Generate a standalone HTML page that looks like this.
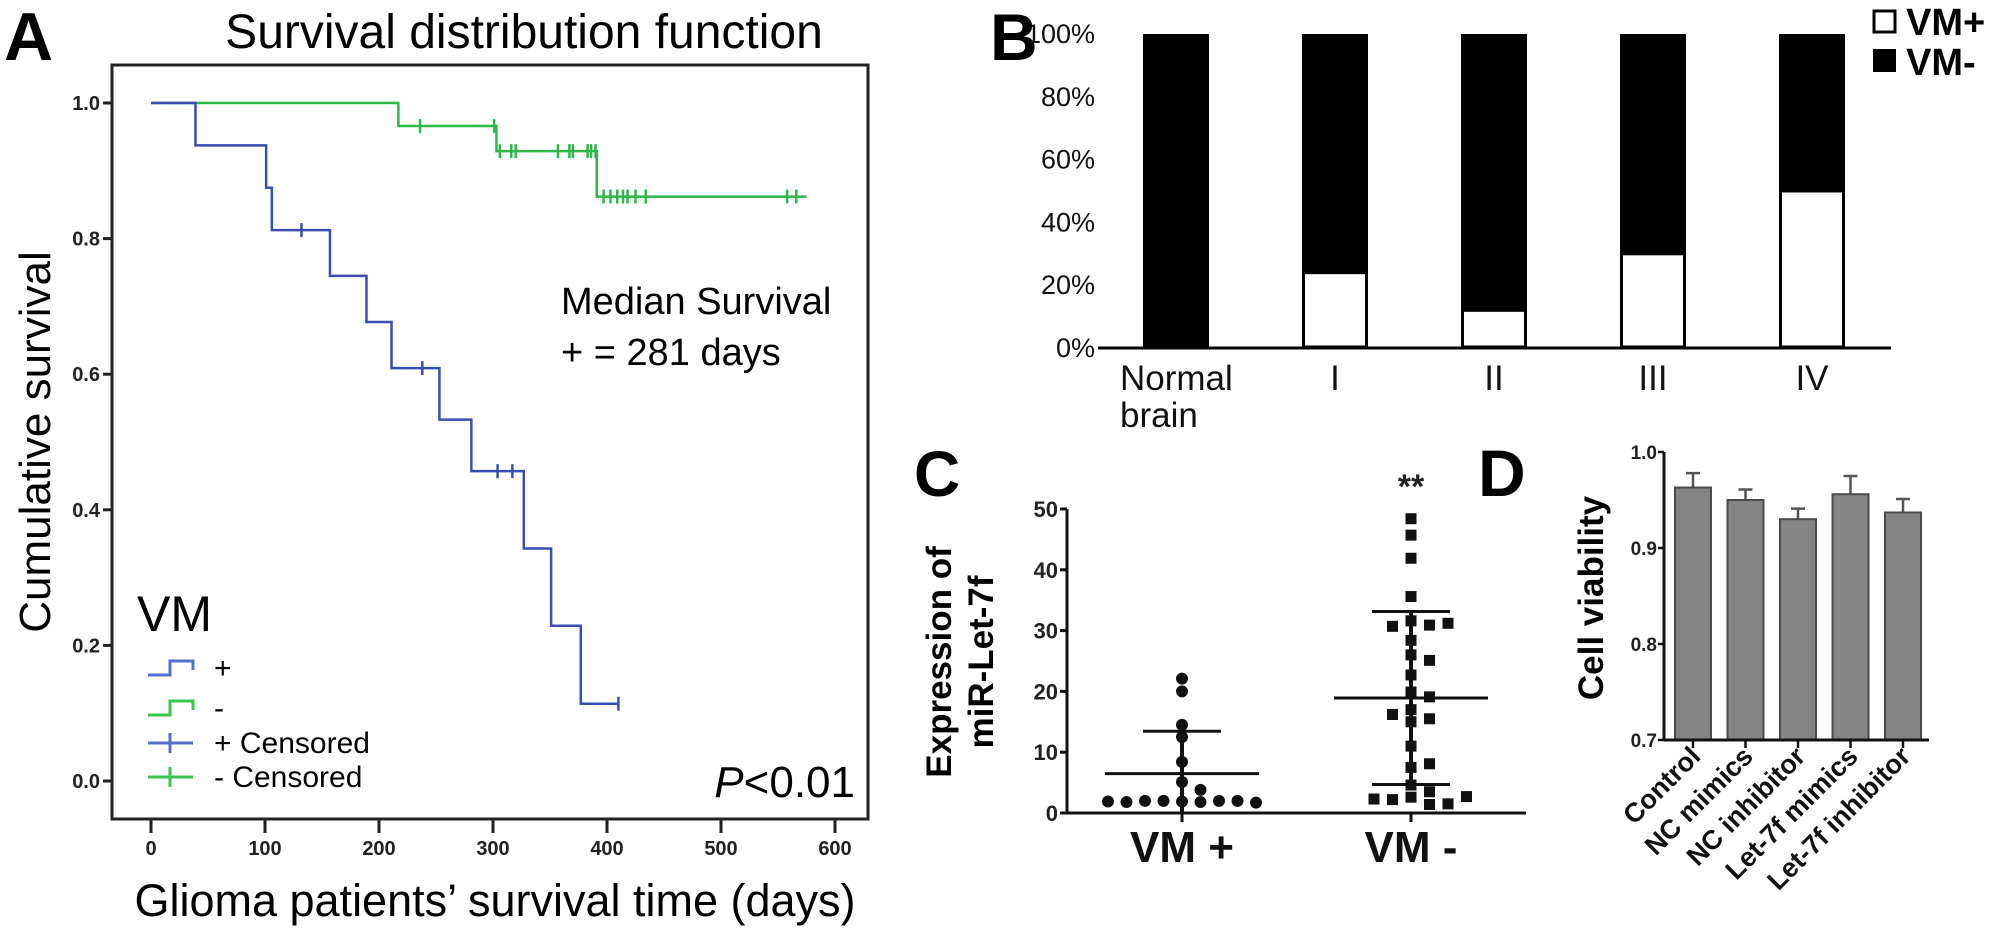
<!DOCTYPE html>
<html><head><meta charset="utf-8">
<style>
html,body{margin:0;padding:0;background:#fff;}
svg{display:block;}
text{font-family:"Liberation Sans",Arial,sans-serif;}
</style></head>
<body>
<svg id="fig" width="2008" height="933" viewBox="0 0 2008 933" xmlns="http://www.w3.org/2000/svg">
  <g>
    <text x="4" y="60" font-size="68" font-weight="bold">A</text>
    <text x="524" y="48" font-size="48" text-anchor="middle">Survival distribution function</text>
    <rect x="112" y="65" width="756" height="754" fill="none" stroke="#222" stroke-width="3"/>
    <text transform="translate(50,442) rotate(-90)" font-size="44" text-anchor="middle">Cumulative survival</text>
    <text x="495" y="916" font-size="45" text-anchor="middle">Glioma patients’ survival time (days)</text>
    <text x="561" y="314" font-size="38">Median Survival</text>
    <text x="561" y="365" font-size="38">+ = 281 days</text>
    <text x="855" y="797" font-size="44" text-anchor="end"><tspan font-style="italic">P</tspan>&lt;0.01</text>
    <g>
      <text x="137" y="631" font-size="50">VM</text>
      <path d="M148 675 H170 V661 H193 V670" fill="none" stroke="#5570c8" stroke-width="3"/>
      <text x="214" y="678" font-size="30">+</text>
      <path d="M148 715 H170 V701 H193 V710" fill="none" stroke="#3cc450" stroke-width="3"/>
      <text x="214" y="718" font-size="30">-</text>
      <path d="M148 743 H193 M170 733 V753" fill="none" stroke="#5570c8" stroke-width="3"/>
      <text x="214" y="753" font-size="30">+ Censored</text>
      <path d="M148 777 H193 M170 767 V787" fill="none" stroke="#3cc450" stroke-width="3"/>
      <text x="214" y="787" font-size="30">- Censored</text>
    </g>
  </g>
  <g id="a-axes"></g>
  <g id="a-curves"></g>

  <g>
    <text x="990" y="60" font-size="66" font-weight="bold">B</text>
    <g>
      <rect x="1874" y="11" width="21" height="21" fill="#fff" stroke="#000" stroke-width="3"/>
      <text x="1906" y="35" font-size="38" font-weight="bold">VM+</text>
      <rect x="1873" y="49" width="23" height="23" fill="#000"/>
      <text x="1906" y="75" font-size="38" font-weight="bold">VM-</text>
    </g>
  </g>
  <g id="b-chart"></g>

  <g>
    <text x="914" y="496" font-size="64" font-weight="bold">C</text>
    <text transform="translate(951,662) rotate(-90)" font-size="35" font-weight="bold" text-anchor="middle">Expression of</text>
    <text transform="translate(993,662) rotate(-90)" font-size="35" font-weight="bold" text-anchor="middle">miR-Let-7f</text>
  </g>
  <g id="c-chart"></g>

  <g>
    <text x="1478" y="496" font-size="66" font-weight="bold">D</text>
    <text transform="translate(1603,598) rotate(-90)" font-size="35" font-weight="bold" text-anchor="middle">Cell viability</text>
  </g>
  <g id="d-chart"></g>
</svg>
<script>
// ---------- Panel A data ----------
const aTickValuesY = [0.0, 0.2, 0.4, 0.6, 0.8, 1.0];
const aTickLabelsY = ["0.0", "0.2", "0.4", "0.6", "0.8", "1.0"];
const aTickValuesX = [0, 100, 200, 300, 400, 500, 600];
const vmPosEventDays = [0, 39, 101, 106, 157, 189, 211, 253, 281, 327, 351, 377];
const vmPosSurvival = [1, 0.9375, 0.875, 0.8125, 0.745, 0.677, 0.609, 0.533, 0.457, 0.343, 0.229, 0.114];
const vmPosEndDay = 410;
const vmPosCensorDays = [132, 238, 304, 317, 410];
const vmNegEventDays = [0, 217, 303, 391];
const vmNegSurvival = [1, 0.966, 0.929, 0.862];
const vmNegEndDay = 575;
const vmNegCensorDays = [236, 301, 306, 316, 320, 357, 367, 370, 383, 386, 390, 397, 403, 409, 414, 418, 425, 434, 558, 566];

// ---------- Panel B data ----------
const bCategories = ["Normal\nbrain", "I", "II", "III", "IV"];
const bVmPosPercent = [0, 24, 12, 30, 50];
const bTickValues = [0, 20, 40, 60, 80, 100];

// ---------- Panel C data ----------
const cGroups = ["VM +", "VM -"];
const cVmPosValues = [1.9, 1.8, 2.0, 2.0, 2.0, 2.0, 1.8, 1.7, 1.9, 5.1, 3.8, 8.4, 12.5, 14.5, 20.0, 22.1];
const cVmNegValues = [48.4, 45.7, 41.9, 35.6, 31.6, 30.9, 30.7, 31.2, 28.4, 26.0, 25.1, 22.7, 19.9, 19.1, 17.0, 15.5, 16.2, 15.0, 11.0, 7.5, 8.1, 4.6, 3.5, 2.6, 2.2, 1.4, 1.5, 2.3, 2.7];
const cTickValues = [0, 10, 20, 30, 40, 50];

// ---------- Panel D data ----------
const dCategories = ["Control", "NC mimics", "NC inhibitor", "Let-7f mimics", "Let-7f  inhibitor"];
const dMeans = [0.963, 0.950, 0.930, 0.956, 0.937];
const dErrors = [0.015, 0.011, 0.011, 0.019, 0.014];
const dTickValues = [0.7, 0.8, 0.9, 1.0];
const dTickLabels = ["0.7", "0.8", "0.9", "1.0"];

const NS = "http://www.w3.org/2000/svg";
function mk(tag, attrs, parent) {
  const e = document.createElementNS(NS, tag);
  for (const k in attrs) e.setAttribute(k, attrs[k]);
  parent.appendChild(e);
  return e;
}

(function () {
  const ax = document.getElementById("a-axes");
  const cv = document.getElementById("a-curves");
  const xS = d => 151 + d * 1.14;
  const yS = v => 781 - v * 678;
  aTickValuesY.forEach((v, i) => {
    const t = mk("line", { x1: 103, x2: 112, y1: yS(v), y2: yS(v), stroke: "#222", "stroke-width": 3 }, ax);
    
    
    const l = mk("text", { x: 100, y: yS(v) + 7, "font-size": 20, "font-weight": "bold", "text-anchor": "end", fill: "#222" }, ax);
    l.textContent = aTickLabelsY[i];
    
    
  });
  aTickValuesX.forEach(v => {
    const t = mk("line", { x1: xS(v), x2: xS(v), y1: 819, y2: 833, stroke: "#222", "stroke-width": 3 }, ax);
    
    
    const l = mk("text", { x: xS(v), y: 855, "font-size": 20, "font-weight": "bold", "text-anchor": "middle", fill: "#222" }, ax);
    l.textContent = String(v);
    
    
  });
  function stepPath(days, surv, endDay) {
    let d = "M" + xS(days[0]) + " " + yS(surv[0]);
    for (let i = 1; i < days.length; i++) d += " H" + xS(days[i]) + " V" + yS(surv[i]);
    d += " H" + xS(endDay);
    return d;
  }
  function levelAt(days, surv, t) {
    let v = surv[0];
    for (let i = 0; i < days.length; i++) if (days[i] <= t) v = surv[i];
    return v;
  }
  const series = [
    { days: vmNegEventDays, surv: vmNegSurvival, end: vmNegEndDay, cens: vmNegCensorDays, col: "#2fb84a", name: "vm-neg" },
    { days: vmPosEventDays, surv: vmPosSurvival, end: vmPosEndDay, cens: vmPosCensorDays, col: "#3a4db3", name: "vm-pos" }
  ];
  series.forEach(s => {
    const p = mk("path", { d: stepPath(s.days, s.surv, s.end), fill: "none", stroke: s.col, "stroke-width": 2.5 }, cv);
    
    
    s.cens.forEach(t => {
      const y = yS(levelAt(s.days, s.surv, t));
      const c = mk("line", { x1: xS(t), x2: xS(t), y1: y - 7, y2: y + 7, stroke: s.col, "stroke-width": 2.5 }, cv);
      
      
    });
  });
})();

(function () {
  const g = document.getElementById("b-chart");
  const yS = v => 348 - v / 100 * 314;
  const xC = i => 1176 + i * 159;
  const bw = 66;
  bTickValues.forEach(v => {
    const l = mk("text", { x: 1095, y: yS(v) + 9, "font-size": 27, "text-anchor": "end", fill: "#111" }, g);
    l.textContent = v + "%";
    
    
  });
  bCategories.forEach((c, i) => {
    const x0 = xC(i) - bw / 2;
    const neg = mk("rect", { x: x0, y: yS(100), width: bw, height: yS(0) - yS(100), fill: "#000" }, g);
    
    
    if (bVmPosPercent[i] > 0) {
      const pos = mk("rect", { x: x0 + 1.5, y: yS(bVmPosPercent[i]), width: bw - 3, height: yS(0) - yS(bVmPosPercent[i]) - 1, fill: "#fff", stroke: "#000", "stroke-width": 3 }, g);
      
      
    }
    const lines = c.split("\n");
    lines.forEach((ln, j) => {
      const t = mk("text", { x: lines.length > 1 ? 1120 : xC(i), y: 390 + j * 37, "font-size": 35, "text-anchor": lines.length > 1 ? "start" : "middle", fill: "#111" }, g);
      t.textContent = ln;
      
      
    });
  });
  const ax = mk("line", { x1: 1098, x2: 1891, y1: 348, y2: 348, stroke: "#000", "stroke-width": 3 }, g);
  
  
})();

(function () {
  const g = document.getElementById("c-chart");
  const yS = v => 813 - v * 6.08;
  const xC = i => [1182, 1411][i];
  const yaxis = mk("line", { x1: 1067, x2: 1067, y1: 509, y2: 813, stroke: "#111", "stroke-width": 3 }, g);
  
  
  const xaxis = mk("line", { x1: 1067, x2: 1526, y1: 813, y2: 813, stroke: "#111", "stroke-width": 3 }, g);
  
  
  cTickValues.forEach(v => {
    const t = mk("line", { x1: 1060, x2: 1067, y1: yS(v), y2: yS(v), stroke: "#111", "stroke-width": 3 }, g);
    
    
    const l = mk("text", { x: 1058, y: yS(v) + 8, "font-size": 22, "font-weight": "bold", "text-anchor": "end", fill: "#222" }, g);
    l.textContent = String(v);
    
    
  });
  cGroups.forEach((c, i) => {
    const t = mk("line", { x1: xC(i), x2: xC(i), y1: 813, y2: 822, stroke: "#111", "stroke-width": 3 }, g);
    
    
    const l = mk("text", { x: xC(i), y: 862, "font-size": 44, "font-weight": "bold", "text-anchor": "middle", fill: "#111" }, g);
    l.textContent = c;
    
    
  });
  function jitter(vals) {
    const placed = [];
    const slotsOrder = [0, 1, -1, 2, -2, 3, -3, 4, -4, 5, -5];
    return vals.map(v => {
      let k = 0;
      while (placed.some(p => p.s === slotsOrder[k] && Math.abs(p.v - v) < 1.9)) k++;
      placed.push({ v: v, s: slotsOrder[k] });
      return slotsOrder[k];
    });
  }
  function stats(vals) {
    const m = vals.reduce((a, b) => a + b, 0) / vals.length;
    const sd = Math.sqrt(vals.reduce((a, b) => a + (b - m) * (b - m), 0) / (vals.length - 1));
    return { m: m, sd: sd };
  }
  [cVmPosValues, cVmNegValues].forEach((vals, gi) => {
    const cx = xC(gi);
    const st = stats(vals);
    const lo = Math.max(0, st.m - st.sd), hi = st.m + st.sd;
    const vl = mk("line", { x1: cx, x2: cx, y1: yS(hi), y2: yS(lo), stroke: "#111", "stroke-width": 4 }, g);
    
    
    const ml = mk("line", { x1: cx - 77, x2: cx + 77, y1: yS(st.m), y2: yS(st.m), stroke: "#111", "stroke-width": 3 }, g);
    
    
    const hl = mk("line", { x1: cx - 39, x2: cx + 39, y1: yS(hi), y2: yS(hi), stroke: "#111", "stroke-width": 3 }, g);
    
    
    if (st.m - st.sd > 0) {
      const ll = mk("line", { x1: cx - 39, x2: cx + 39, y1: yS(lo), y2: yS(lo), stroke: "#111", "stroke-width": 3 }, g);
      
      
    }
    const offs = jitter(vals);
    vals.forEach((v, j) => {
      const px = cx + offs[j] * 18.5;
      let m;
      if (gi === 0) {
        m = mk("circle", { cx: px, cy: yS(v), r: 6, fill: "#111" }, g);
        
      } else {
        m = mk("rect", { x: px - 5.5, y: yS(v) - 5.5, width: 11, height: 11, fill: "#111" }, g);
        
      }
      
    });
  });
  const sig = mk("text", { x: 1411, y: 498, "font-size": 34, "font-weight": "bold", "text-anchor": "middle", fill: "#222" }, g);
  sig.textContent = "**";
  
  
})();

(function () {
  const g = document.getElementById("d-chart");
  const yS = v => 740 - (v - 0.7) / 0.3 * 288;
  const xC = i => 1693 + i * 52.5;
  const bw = 36;
  dTickValues.forEach((v, i) => {
    const t = mk("line", { x1: 1658, x2: 1664, y1: yS(v), y2: yS(v), stroke: "#111", "stroke-width": 2.5 }, g);
    
    
    const l = mk("text", { x: 1657, y: yS(v) + 7, "font-size": 19, "font-weight": "bold", "text-anchor": "end", fill: "#222" }, g);
    l.textContent = dTickLabels[i];
    
    
  });
  dCategories.forEach((c, i) => {
    const cx = xC(i);
    const eb = mk("path", { d: "M" + cx + " " + yS(dMeans[i]) + " V" + yS(dMeans[i] + dErrors[i]) + " M" + (cx - 7) + " " + yS(dMeans[i] + dErrors[i]) + " H" + (cx + 7), stroke: "#555", "stroke-width": 2.5, fill: "none" }, g);
    
    
    const b = mk("rect", { x: cx - bw / 2, y: yS(dMeans[i]), width: bw, height: yS(0.7) - yS(dMeans[i]), fill: "#848484", stroke: "#4a4a4a", "stroke-width": 2 }, g);
    
    
    const t = mk("line", { x1: cx, x2: cx, y1: 740, y2: 748, stroke: "#111", "stroke-width": 2.5 }, g);
    
    
    const l = mk("text", { transform: "translate(" + (cx + 9) + ",758) rotate(-45)", "font-size": 27, "font-weight": "bold", "text-anchor": "end", fill: "#111" }, g);
    l.textContent = c;
    
    
  });
  const ya = mk("line", { x1: 1664, x2: 1664, y1: yS(1.0), y2: 740, stroke: "#111", "stroke-width": 3 }, g);
  
  
  const xa = mk("line", { x1: 1664, x2: 1929, y1: 740, y2: 740, stroke: "#111", "stroke-width": 3 }, g);
  
  
})();
</script>
</body></html>
